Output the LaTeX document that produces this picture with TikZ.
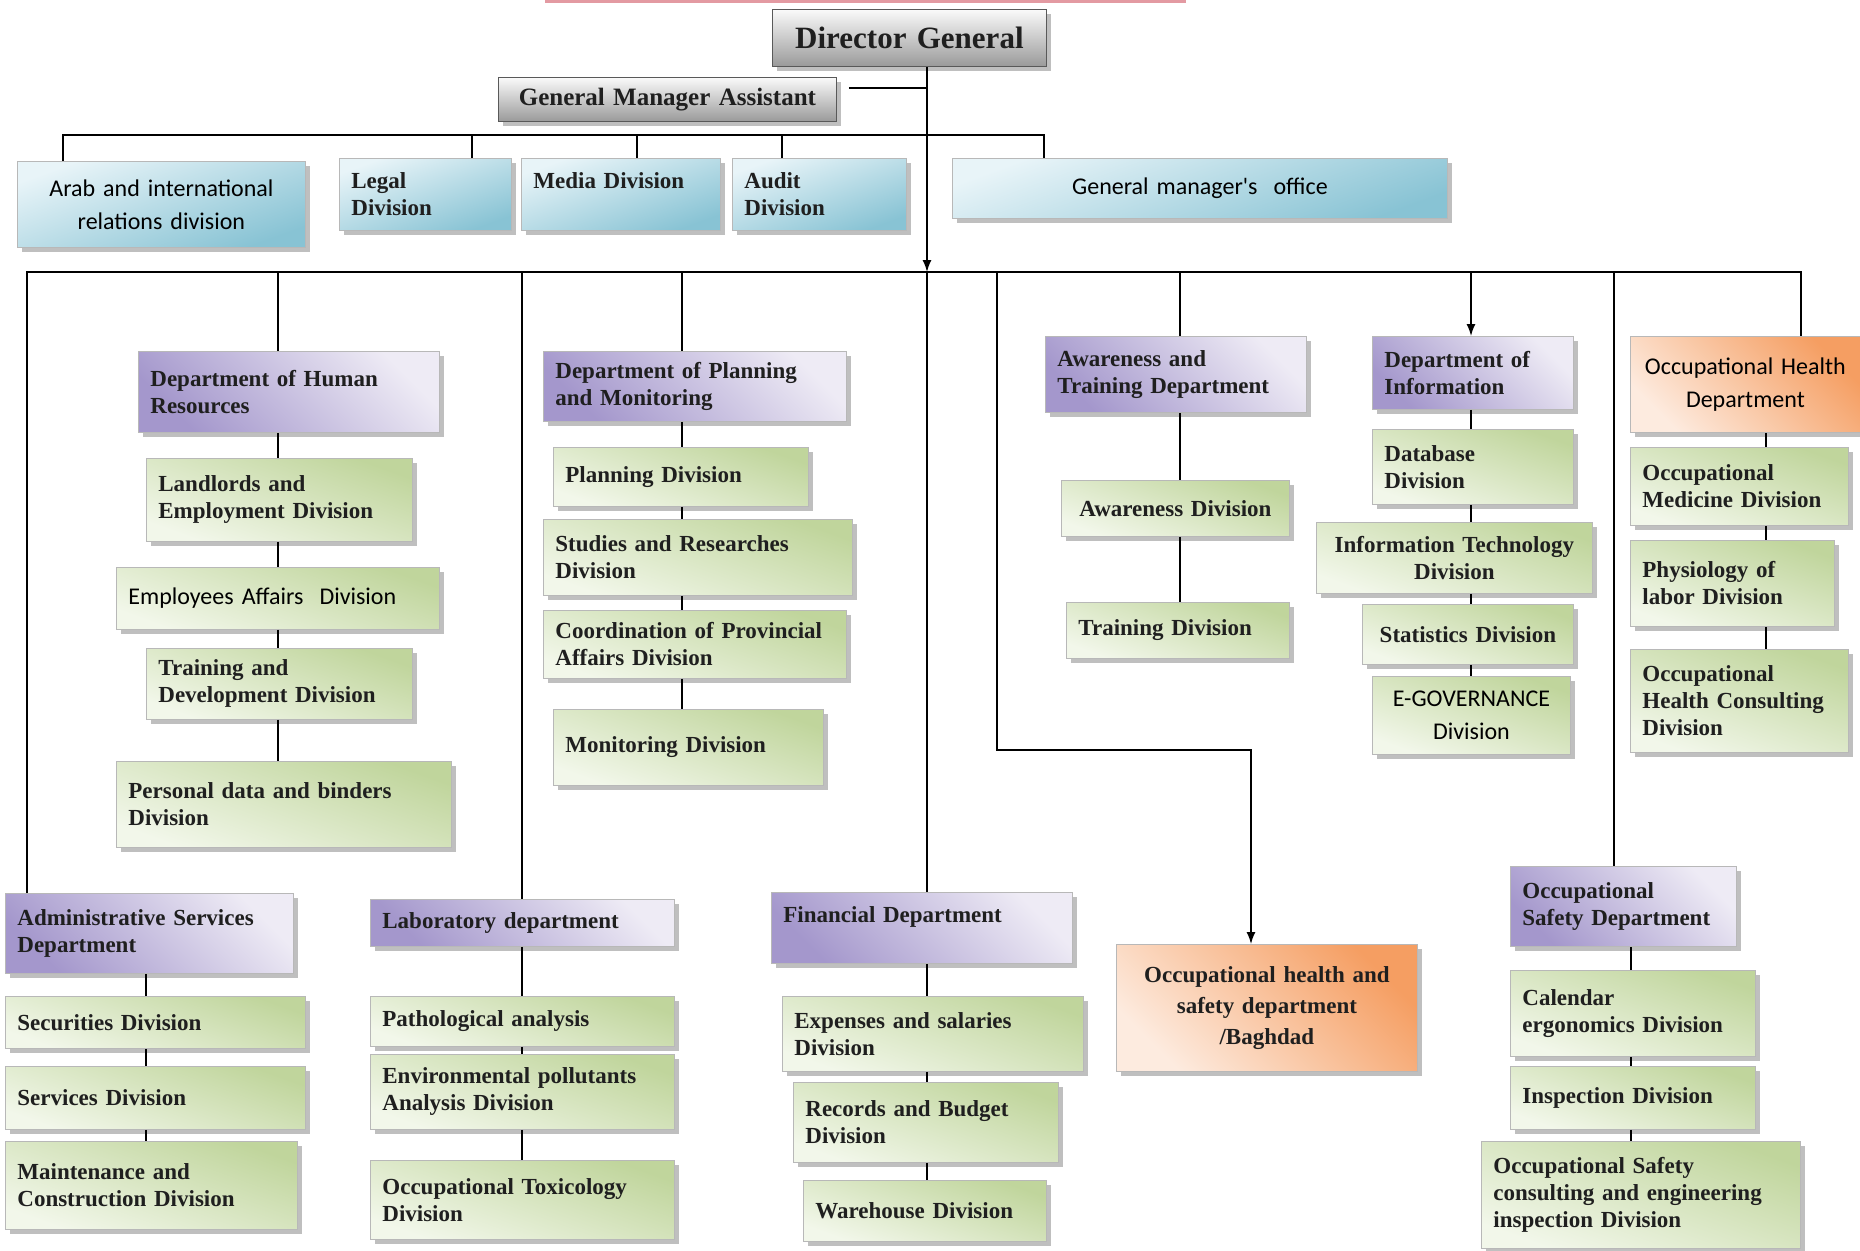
\documentclass[tikz,border=0pt]{standalone}
\usepackage{fontspec}
\setmainfont{Liberation Serif}
\newfontfamily\carl{Carlito}
\usetikzlibrary{shadows,arrows.meta,calc}

\definecolor{purD}{HTML}{A497CC}
\definecolor{purL}{HTML}{EEEBF5}
\definecolor{grnD}{HTML}{C0D59C}
\definecolor{grnL}{HTML}{F2F7EA}
\definecolor{bluD}{HTML}{88C3D4}
\definecolor{bluL}{HTML}{E8F4F8}
\definecolor{orgD}{HTML}{F59E62}
\definecolor{orgL}{HTML}{FDEBDF}
\definecolor{gryD}{HTML}{9A9A9A}
\definecolor{gryL}{HTML}{FAFAFA}
\definecolor{topred}{HTML}{E39AA2}

\tikzset{
  basebox/.style={rectangle, inner xsep=6pt, inner ysep=2pt, draw=black!28, line width=0.4pt,
     drop shadow={shadow xshift=2.5pt, shadow yshift=-2.5pt, fill=black!55, opacity=0.45},
     font=\bfseries\fontsize{11.5}{13.5}\selectfont, align=left, text=black!88},
  purbox/.style={basebox, top color=purD, bottom color=purL, shading angle=135},
  grnbox/.style={basebox, top color=grnD, bottom color=grnL, shading angle=-20},
  blubox/.style={basebox, top color=bluL, bottom color=bluD, shading angle=20},
  orgbox/.style={basebox, top color=orgD, bottom color=orgL, shading angle=-45},
  grybox/.style={basebox, draw=black!65, top color=gryL, bottom color=gryD},
  sansf/.style={font=\carl\fontsize{12}{16.5}\selectfont, text=black},
  ctr/.style={align=center},
  conn/.style={draw=black, line width=0.75pt},
  arr/.style={conn, -{Latex[length=6pt,width=4.5pt]}}
}

\newcommand{\obox}[7]{%
  \pgfmathsetmacro{\obw}{(#5-#3)/2}%
  \pgfmathsetmacro{\obh}{(#6-#4)/2}%
  \pgfmathsetmacro{\obt}{\obw-12}%
  \node[#2, anchor=north west, minimum width=\obw pt, minimum height=\obh pt, text width=\obt pt] (#1) at (#3,#4) {#7};}

\begin{document}
\begin{tikzpicture}[x=0.5pt, y=-0.5pt]
\useasboundingbox (0,0) rectangle (1860,1250);
\fill[white] (0,0) rectangle (1860,1250);
\fill[topred] (545,0) rectangle (1186,3);

% --- top level
\obox{dg}{grybox,ctr,font=\bfseries\fontsize{15.5}{18}\selectfont}{772}{9}{1046}{66}{Director General}
\obox{gma}{grybox,ctr,font=\bfseries\fontsize{12.5}{15}\selectfont}{498}{77}{836}{121}{General Manager Assistant}

\obox{arab}{blubox,sansf,ctr}{17}{161}{305}{247}{Arab and international\\relations division}
\obox{legal}{blubox}{339}{158}{511}{230}{Legal\\Division}
\obox{media}{blubox}{521}{158}{720}{230}{Media Division\\~}
\obox{audit}{blubox}{732}{158}{906}{230}{Audit\\Division}
\obox{gmo}{blubox,sansf,ctr}{952}{158}{1447}{218}{General manager's\ \ office}

% --- HR column
\obox{hr}{purbox}{138}{351}{439}{432}{Department of Human\\Resources}
\obox{hr1}{grnbox}{146}{458}{412}{541}{Landlords and\\Employment Division}
\obox{hr2}{grnbox,sansf}{116}{567}{439}{629}{Employees Affairs\ \ Division}
\obox{hr3}{grnbox}{146}{648}{412}{719}{Training and\\Development Division}
\obox{hr4}{grnbox}{116}{761}{451}{847}{Personal data and binders\\Division}

% --- Planning column
\obox{pl}{purbox}{543}{351}{846}{421}{Department of Planning\\and Monitoring}
\obox{pl1}{grnbox}{553}{447}{808}{506}{Planning Division}
\obox{pl2}{grnbox}{543}{519}{852}{595}{Studies and Researches\\Division}
\obox{pl3}{grnbox}{543}{610}{846}{678}{Coordination of Provincial\\Affairs Division}
\obox{pl4}{grnbox}{553}{709}{823}{785}{Monitoring Division}

% --- Awareness column
\obox{aw}{purbox}{1045}{336}{1306}{412}{Awareness and\\Training Department}
\obox{aw1}{grnbox,ctr}{1061}{480}{1289}{536}{Awareness Division}
\obox{aw2}{grnbox}{1066}{602}{1289}{658}{Training Division}

% --- Information column
\obox{inf}{purbox}{1372}{336}{1573}{409}{Department of\\Information}
\obox{inf1}{grnbox}{1372}{429}{1573}{504}{Database\\Division}
\obox{inf2}{grnbox,ctr}{1316}{522}{1592}{593}{Information Technology\\Division}
\obox{inf3}{grnbox,ctr}{1362}{604}{1573}{664}{Statistics Division}
\obox{inf4}{grnbox,sansf,ctr}{1372}{676}{1570}{754}{E-GOVERNANCE\\Division}

% --- Occupational health column
\obox{oh}{orgbox,sansf,ctr}{1630}{336}{1860}{432}{Occupational Health\\Department}
\obox{oh1}{grnbox}{1630}{447}{1848}{525}{Occupational\\Medicine Division}
\obox{oh2}{grnbox}{1630}{540}{1834}{626}{Physiology of\\labor Division}
\obox{oh3}{grnbox}{1630}{649}{1848}{752}{Occupational\\Health Consulting\\Division}

% --- Administrative column
\obox{ad}{purbox}{5}{893}{293}{973}{Administrative Services\\Department}
\obox{ad1}{grnbox}{5}{996}{305}{1048}{Securities Division}
\obox{ad2}{grnbox}{5}{1066}{305}{1129}{Services Division}
\obox{ad3}{grnbox}{5}{1141}{297}{1229}{Maintenance and\\Construction Division}

% --- Laboratory column
\obox{lab}{purbox}{370}{899}{674}{946}{Laboratory department}
\obox{lab1}{grnbox}{370}{996}{674}{1046}{Pathological analysis}
\obox{lab2}{grnbox}{370}{1054}{674}{1129}{Environmental pollutants\\Analysis Division}
\obox{lab3}{grnbox}{370}{1160}{674}{1239}{Occupational Toxicology\\Division}

% --- Financial column
\obox{fin}{purbox}{771}{892}{1072}{963}{Financial Department\\~}
\obox{fin1}{grnbox}{782}{996}{1083}{1071}{Expenses and salaries\\Division}
\obox{fin2}{grnbox}{793}{1082}{1058}{1162}{Records and Budget\\Division}
\obox{fin3}{grnbox}{803}{1180}{1046}{1241}{Warehouse Division}

% --- Baghdad
\obox{bag}{orgbox,ctr,font=\bfseries\fontsize{11.5}{15.5}\selectfont}{1116}{944}{1417}{1071}{Occupational health and\\safety department\\/Baghdad}

% --- Occupational safety column
\obox{os}{purbox}{1510}{866}{1736}{946}{Occupational\\Safety Department}
\obox{os1}{grnbox}{1510}{970}{1755}{1056}{Calendar\\ergonomics Division}
\obox{os2}{grnbox}{1510}{1066}{1755}{1129}{Inspection Division}
\obox{os3}{grnbox}{1481}{1141}{1800}{1248}{Occupational Safety\\consulting and engineering\\inspection Division}

% ---------- connectors
\coordinate (jGMA) at (927,88);
\coordinate (busL) at (27,272);
\coordinate (busR) at (1801,272);
\coordinate (tbL) at (63,135);
\coordinate (tbR) at (1044,135);
\coordinate (dLegal) at (472,135);
\coordinate (dMedia) at (637,135);
\coordinate (dAudit) at (782,135);
\coordinate (tk) at (927,272);
\coordinate (cHR) at (278,272);
\coordinate (cLab) at (522,272);
\coordinate (cPl) at (682,272);
\coordinate (cBag) at (997,272);
\coordinate (cAw) at (1180,272);
\coordinate (cInf) at (1471,272);
\coordinate (cOS) at (1614,272);
\coordinate (iAd) at (146,272);
\coordinate (iOH) at (1766,272);
\coordinate (iOS) at (1631,272);
\coordinate (bagTurn) at (997,750);
\coordinate (bagX) at (1251,750);

% trunk
\draw[arr] (dg.south -| jGMA) -- (tk);
\draw[conn] (tk) -- (tk |- fin.north);
\draw[conn] (gma.east |- jGMA) ++(12,0) -- (jGMA);

% upper bus
\draw[conn] (arab.north -| tbL) -- (tbL) -- (tbR) -- (gmo.north -| tbR);
\draw[conn] (dLegal) -- (dLegal |- legal.north);
\draw[conn] (dMedia) -- (dMedia |- media.north);
\draw[conn] (dAudit) -- (dAudit |- audit.north);

% main bus
\draw[conn] (ad.north -| busL) -- (busL) -- (busR) -- (oh.north -| busR);
\draw[conn] (cHR) -- (cHR |- hr.north);
\draw[conn] (cLab) -- (cLab |- lab.north);
\draw[conn] (cPl) -- (cPl |- pl.north);
\draw[conn] (cAw) -- (cAw |- aw.north);
\draw[arr] (cInf) -- (cInf |- inf.north);
\draw[conn] (cOS) -- (cOS |- os.north);
\draw[arr] (cBag) -- (bagTurn) -- (bagX) -- (bagX |- bag.north);

% column chains
\foreach \a/\b in {hr/hr1,hr1/hr2,hr2/hr3,hr3/hr4}
  \draw[conn] (\a.south -| cHR) -- (\b.north -| cHR);
\foreach \a/\b in {pl/pl1,pl1/pl2,pl2/pl3,pl3/pl4}
  \draw[conn] (\a.south -| cPl) -- (\b.north -| cPl);
\foreach \a/\b in {aw/aw1,aw1/aw2}
  \draw[conn] (\a.south -| cAw) -- (\b.north -| cAw);
\foreach \a/\b in {inf/inf1,inf1/inf2,inf2/inf3,inf3/inf4}
  \draw[conn] (\a.south -| cInf) -- (\b.north -| cInf);
\foreach \a/\b in {oh/oh1,oh1/oh2,oh2/oh3}
  \draw[conn] (\a.south -| iOH) -- (\b.north -| iOH);
\foreach \a/\b in {ad/ad1,ad1/ad2,ad2/ad3}
  \draw[conn] (\a.south -| iAd) -- (\b.north -| iAd);
\foreach \a/\b in {lab/lab1,lab1/lab2,lab2/lab3}
  \draw[conn] (\a.south -| cLab) -- (\b.north -| cLab);
\foreach \a/\b in {fin/fin1,fin1/fin2,fin2/fin3}
  \draw[conn] (\a.south -| tk) -- (\b.north -| tk);
\foreach \a/\b in {os/os1,os1/os2,os2/os3}
  \draw[conn] (\a.south -| iOS) -- (\b.north -| iOS);
\end{tikzpicture}
\end{document}
